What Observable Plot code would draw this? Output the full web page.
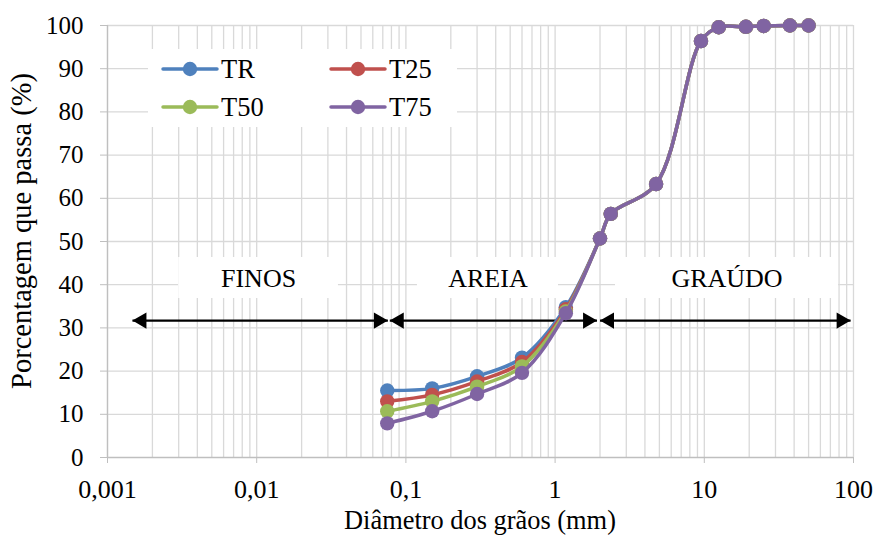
<!DOCTYPE html>
<html><head><meta charset="utf-8">
<script src="https://cdn.jsdelivr.net/npm/d3@7"></script>
<script src="https://cdn.jsdelivr.net/npm/@observablehq/plot@0.6"></script>
<style>
body{margin:0;background:#fff}
#chart{width:874px;height:540px}
</style>
</head><body><div id="chart"></div>
<script>
// ---- data ----
const sieves = [0.075, 0.15, 0.3, 0.6, 1.18, 2.0, 2.36, 4.75, 9.5, 12.5, 19, 25, 37.5, 50];
const TR  = [15.5, 16.0, 18.8, 23.1, 34.8, 50.7, 56.4, 63.3, 96.4, 99.6, 99.7, 99.9, 100, 100];
const T25 = [13.0, 14.5, 17.6, 22.1, 34.3, 50.7, 56.4, 63.3, 96.4, 99.6, 99.7, 99.9, 100, 100];
const T50 = [10.7, 13.0, 16.4, 21.1, 33.8, 50.7, 56.4, 63.3, 96.4, 99.6, 99.7, 99.9, 100, 100];
const T75 = [ 7.9, 10.7, 14.7, 19.6, 33.4, 50.7, 56.4, 63.3, 96.4, 99.6, 99.7, 99.9, 100, 100];
const seriesNames = ["TR", "T25", "T50", "T75"];
const seriesColors = ["#4F81BD", "#C0504D", "#9BBB59", "#8064A2"];
const xTicks = [0.001, 0.01, 0.1, 1, 10, 100];
const yTicks = [0, 10, 20, 30, 40, 50, 60, 70, 80, 90, 100];

// zone annotations (FINOS / AREIA / GRAÚDO)
const zoneNames = ["FINOS", "AREIA", "GRAÚDO"];
const zoneFrom  = [0.00147, 0.078, 2.0];
const zoneTo    = [0.0757, 1.91, 95.6];
const zoneArrowY = 31.7;
const zoneBoxFrom = [0.0030, 0.1195, 2.54];
const zoneBoxTo   = [0.0353, 1.054, 79.4];
const zoneBoxY = [36.8, 46.3];
const zoneLabelY = 41.3;

// ---- build tables ----
const allSeries = [TR, T25, T50, T75];
const rows = allSeries.map((vals, i) => sieves.map((d, j) => ({s: seriesNames[i], d, p: vals[j]})));
const zones = zoneNames.map((name, i) => ({
  name, from: zoneFrom[i], to: zoneTo[i],
  bx1: zoneBoxFrom[i], bx2: zoneBoxTo[i],
  mid: Math.sqrt(zoneBoxFrom[i] * zoneBoxTo[i])
}));
const gridX = d3.range(-3, 2).flatMap(e => d3.range(1, 10).map(k => +(k * Math.pow(10, e)).toPrecision(6))).concat([100]);

const font = "'Liberation Serif','Times New Roman',serif";
const grid = "#d9d9d9", axisGray = "#bfbfbf";

const seriesMarks = rows.flatMap((r, i) => [
  Plot.line(r, {x: "d", y: "p", stroke: seriesColors[i], strokeWidth: 3.5, curve: "catmull-rom"}),
  Plot.dot(r, {x: "d", y: "p", fill: seriesColors[i], r: 7.2})
]);

const chart = Plot.plot({
  width: 874, height: 540,
  marginLeft: 107, marginRight: 21, marginTop: 25, marginBottom: 83,
  x: {type: "log", domain: [0.001, 100]},
  y: {domain: [0, 100]},
  style: {fontFamily: font, fontSize: "25px", background: "white", color: "black"},
  marks: [
    Plot.ruleX(gridX, {stroke: grid, strokeWidth: 1.3}),
    Plot.ruleY(yTicks.slice(1), {stroke: grid, strokeWidth: 1.3}),
    Plot.ruleX([0.001], {stroke: axisGray, strokeWidth: 1.3}),
    Plot.ruleY([0], {stroke: axisGray, strokeWidth: 1.3}),
    Plot.axisX({ticks: xTicks, tickFormat: d => String(d).replace(".", ","), tickSize: 6, tickPadding: 16,
      stroke: axisGray, fill: "black", fontSize: 26, label: null}),
    Plot.axisY({ticks: yTicks, tickSize: 7, tickPadding: 17, stroke: axisGray, fill: "black", fontSize: 25, label: null}),
    Plot.rect(zones, {x1: "bx1", x2: "bx2", y1: zoneBoxY[0], y2: zoneBoxY[1], fill: "white"}),
    Plot.text(zones, {x: "mid", y: zoneLabelY, text: "name", fontSize: 26, fill: "black"}),
    Plot.link(zones, {x1: "from", x2: "to", y1: zoneArrowY, y2: zoneArrowY, stroke: "black", strokeWidth: 2.2}),
    Plot.dot(zones, {x: "from", y: zoneArrowY, symbol: "triangle", r: 6, rotate: -90, dx: 9.3, fill: "black"}),
    Plot.dot(zones, {x: "to", y: zoneArrowY, symbol: "triangle", r: 6, rotate: 90, dx: -9.3, fill: "black"}),
    ...seriesMarks
  ]
});
document.getElementById("chart").appendChild(chart);

// ---- legend & titles ----
const svg = d3.select(chart);
const lg = svg.append("g");
lg.append("rect").attr("x", 148).attr("y", 49).attr("width", 309).attr("height", 78).attr("fill", "white");
seriesNames.forEach((name, i) => {
  const x0 = i % 2 === 0 ? 163 : 331;
  const y0 = i < 2 ? 69 : 107;
  const g = lg.append("g");
  g.append("line").attr("x1", x0).attr("x2", x0 + 54).attr("y1", y0).attr("y2", y0)
    .attr("stroke", seriesColors[i]).attr("stroke-width", 3.5).attr("stroke-linecap", "round");
  g.append("circle").attr("cx", x0 + 27).attr("cy", y0).attr("r", 7.2).attr("fill", seriesColors[i]);
  g.append("text").attr("x", x0 + 58).attr("y", y0).attr("dy", "0.35em").attr("text-anchor", "start")
    .attr("font-family", font).attr("font-size", 26.5).attr("fill", "black").text(name);
});
svg.append("text").attr("x", 480).attr("y", 529).attr("text-anchor", "middle")
  .attr("font-family", font).attr("font-size", 26.4).attr("fill", "black").text("Diâmetro dos grãos (mm)");
svg.append("text").attr("transform", "translate(31,231) rotate(-90)").attr("text-anchor", "middle")
  .attr("font-family", font).attr("font-size", 28.5).attr("fill", "black").text("Porcentagem que passa (%)");
</script>
</body></html>
